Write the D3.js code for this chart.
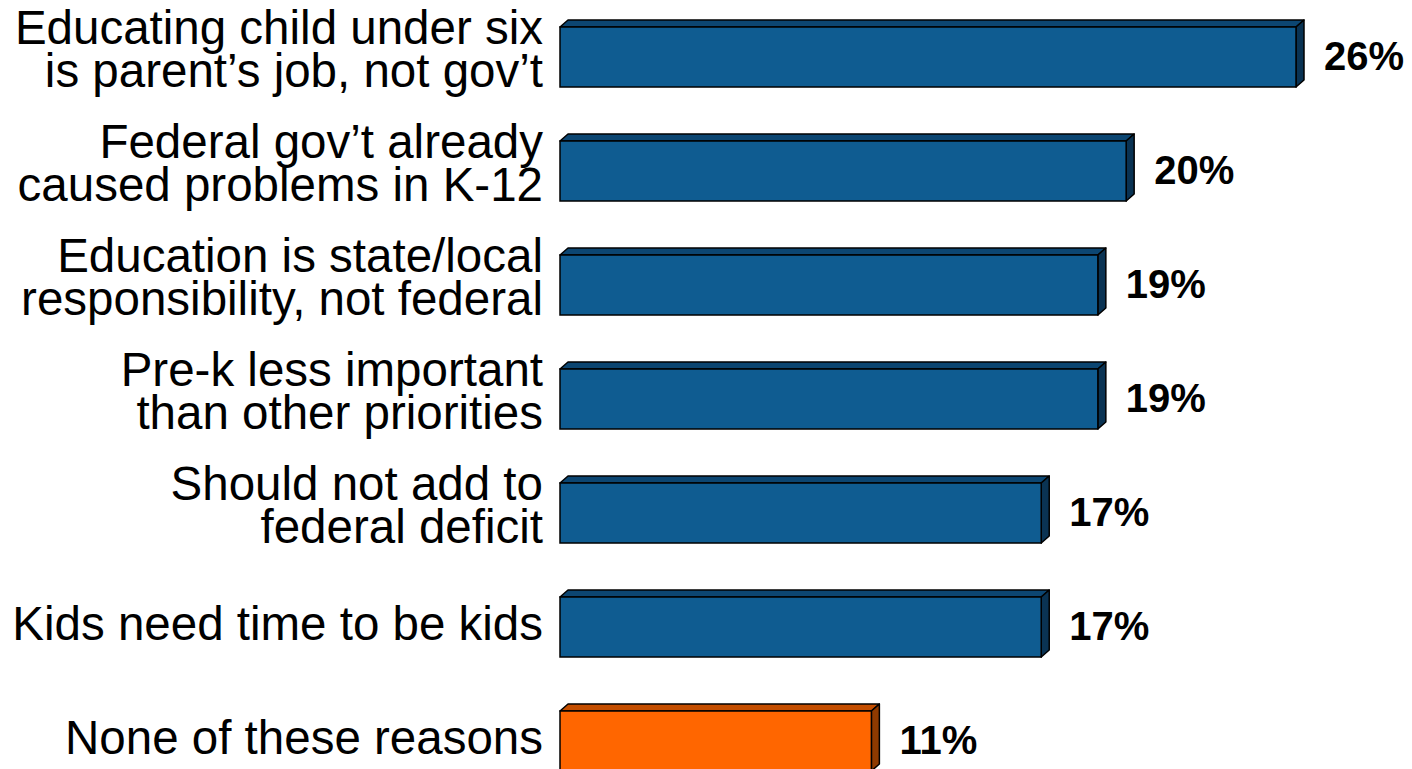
<!DOCTYPE html>
<html>
<head>
<meta charset="utf-8">
<script src="https://cdn.jsdelivr.net/npm/d3@7/dist/d3.min.js"></script>
<style>
  html, body { margin: 0; padding: 0; background: #ffffff; }
  svg { display: block; }
  text { font-family: "Liberation Sans", Arial, sans-serif; fill: #000; }
</style>
</head>
<body>
<svg id="chart" width="1412" height="769"></svg>
<script>
// ---- data ----
const categories = [
  "Educating child under six|is parent\u2019s job, not gov\u2019t",
  "Federal gov\u2019t already|caused problems in K-12",
  "Education is state/local|responsibility, not federal",
  "Pre-k less important|than other priorities",
  "Should not add to|federal deficit",
  "Kids need time to be kids",
  "None of these reasons"
];
const values = [26, 20, 19, 19, 17, 17, 11];
const valueLabels = ["26%", "20%", "19%", "19%", "17%", "17%", "11%"];
const highlight = [false, false, false, false, false, false, true];

// ---- styles ----
const blue = { front: "#0F5C91", top: "#0C4672", side: "#0A3353" };
const orange = { front: "#FF6600", top: "#C44E00", side: "#8F3A00" };
const depthX = 8, depthY = 7;

const svg = d3.select("#chart");

const x = d3.scaleLinear().domain([0, 26]).range([560, 1296]);
const y = d3.scaleBand()
  .domain(categories)
  .range([27, 27 + 6 * 114 + 60])
  .paddingInner(54 / 114)
  .paddingOuter(0);

const g = svg.append("g");
const bars = g.selectAll("g.bar")
  .data(categories.map((c, i) => ({ c, v: values[i], lab: valueLabels[i], hi: highlight[i] })))
  .join("g")
  .attr("class", "bar");

bars.each(function(d) {
  const sel = d3.select(this);
  const col = d.hi ? orange : blue;
  const x0 = x(0), x1 = x(d.v);
  const y0 = y(d.c), h = y.bandwidth();
  // top face
  sel.append("path")
    .attr("d", `M${x0},${y0} L${x0 + depthX},${y0 - depthY} L${x1 + depthX},${y0 - depthY} L${x1},${y0} Z`)
    .attr("fill", col.top).attr("stroke", "#000").attr("stroke-width", 1.5).attr("stroke-linejoin", "round");
  // side face
  sel.append("path")
    .attr("d", `M${x1},${y0} L${x1 + depthX},${y0 - depthY} L${x1 + depthX},${y0 + h - depthY} L${x1},${y0 + h} Z`)
    .attr("fill", col.side).attr("stroke", "#000").attr("stroke-width", 1.5).attr("stroke-linejoin", "round");
  // front face
  sel.append("rect")
    .attr("x", x0).attr("y", y0).attr("width", x1 - x0).attr("height", h)
    .attr("fill", col.front).attr("stroke", "#000").attr("stroke-width", 1.5);
  // value label
  sel.append("text")
    .attr("x", x1 + depthX + 20)
    .attr("y", y0 + h / 2 - 1)
    .attr("dy", "0.36em")
    .attr("font-size", 40)
    .attr("font-weight", "bold")
    .text(d.lab);
  // category label
  const lines = d.c.split("|");
  const lh = 43;
  const cy = y0 + h / 2 - (lines.length > 1 ? 8.5 : 4);
  const t = sel.append("text")
    .attr("text-anchor", "end")
    .attr("font-size", 47.5);
  lines.forEach((ln, k) => {
    t.append("tspan")
      .attr("x", 543)
      .attr("y", cy + (k - (lines.length - 1) / 2) * lh)
      .attr("dy", "0.36em")
      .text(ln);
  });
});
</script>
</body>
</html>
